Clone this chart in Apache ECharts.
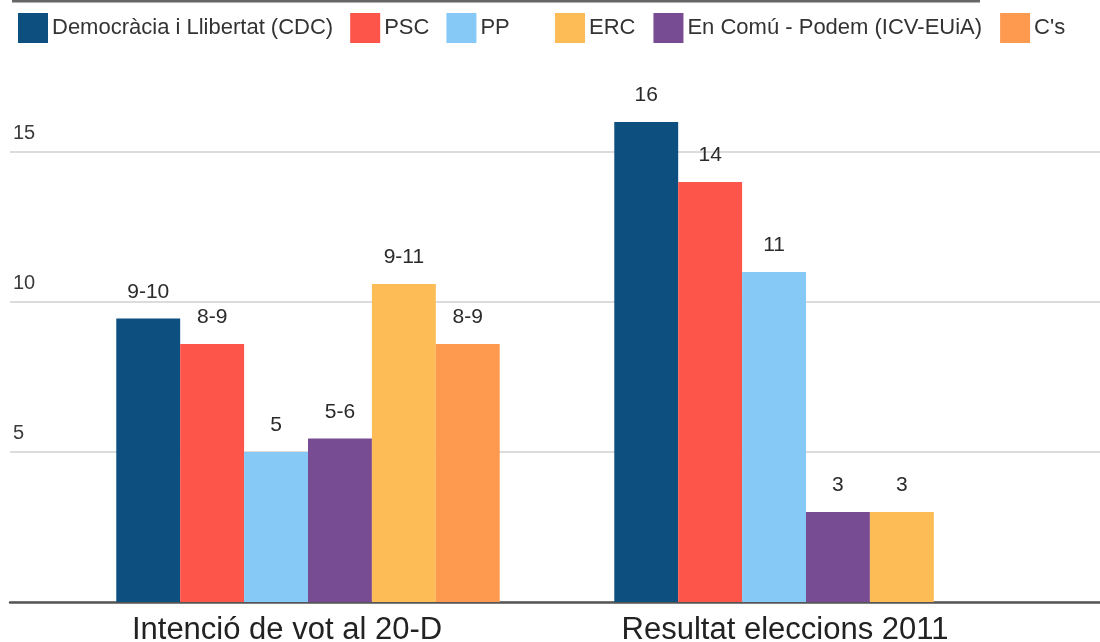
<!DOCTYPE html>
<html>
<head>
<meta charset="utf-8">
<script src="https://cdn.jsdelivr.net/npm/echarts@6/dist/echarts.min.js"></script>
<style>
  html, body { margin: 0; padding: 0; background: #fff; }
  #main { width: 1100px; height: 642px; }
</style>
</head>
<body>
<div id="main"></div>
<script>
// categories (groups on the x axis)
var categories = ['Intenció de vot al 20-D', 'Resultat eleccions 2011'];

// legend order differs from the bar order (two runs of spacing in the original)
var legendFirst  = ['Democràcia i Llibertat (CDC)', 'PSC', 'PP'];
var legendSecond = ['ERC', 'En Comú - Podem (ICV-EUiA)', "C's"];

// values (range midpoints for the poll)
var cdcValues  = [9.45, 16];
var pscValues  = [8.6, 14];
var ppValues   = [5, 11];
var comuValues = [5.45, 3];
var ercValues  = [10.6, 3];
var csValues   = [8.6, null];

// labels printed above the bars
var cdcLabels  = ['9-10', '16'];
var pscLabels  = ['8-9', '14'];
var ppLabels   = ['5', '11'];
var comuLabels = ['5-6', '3'];
var ercLabels  = ['9-11', '3'];
var csLabels   = ['8-9', ''];

var yTicks = [0, 5, 10, 15];

var myChart = echarts.init(document.getElementById('main'));

// 每个系列共用的样式
function makeSeries(name, color, values, labels) {
    return {
        name: name,
        type: 'bar',
        xAxisIndex: 1,
        yAxisIndex: 1,
        barGap: '0%',
        barCategoryGap: '23%',
        itemStyle: { color: color },
        label: {
            show: true,
            position: 'top',
            distance: 16,
            fontSize: 21,
            color: '#2a2a2a',
            formatter: function (p) { return labels[p.dataIndex]; }
        },
        data: values
    };
}

var legendText = { fontSize: 22, color: '#333', padding: [0, 0, 0, -1] };

var option = {
    animation: false,
    textStyle: { fontFamily: 'Liberation Sans, Arial, sans-serif' },
    graphic: [{
        type: 'line',
        shape: { x1: 12, y1: 1, x2: 980, y2: 1 },
        style: { stroke: '#666', lineWidth: 3 }
    }],
    legend: [{
        data: legendFirst,
        left: 18,
        top: 13,
        padding: 0,
        icon: 'rect',
        itemWidth: 30,
        itemHeight: 30,
        itemGap: 17,
        textStyle: legendText
    }, {
        data: legendSecond,
        left: 555,
        top: 13,
        padding: 0,
        icon: 'rect',
        itemWidth: 30,
        itemHeight: 30,
        itemGap: 18,
        textStyle: legendText
    }],
    grid: [
        { left: 10, right: 0, top: 2, bottom: 40, outerBoundsMode: 'none', containLabel: false },
        { left: 59, width: 996, top: 2, bottom: 40, outerBoundsMode: 'none', containLabel: false }
    ],
    xAxis: [{
        type: 'category',
        gridIndex: 0,
        data: [''],
        axisLine: { lineStyle: { color: '#555', width: 2.5 } },
        axisTick: { show: false },
        axisLabel: { show: false }
    }, {
        type: 'category',
        gridIndex: 1,
        data: categories,
        axisLine: { show: false },
        axisTick: { show: false },
        axisLabel: {
            fontSize: 31,
            color: '#222',
            margin: 13,
            padding: [0, 42, 0, 0]
        }
    }],
    yAxis: [{
        type: 'value',
        gridIndex: 0,
        min: 0,
        max: 20,
        interval: 5,
        axisLine: { show: false },
        axisTick: { show: false },
        splitLine: { showMaxLine: false, lineStyle: { color: '#dcdcdc', width: 2 } },
        axisLabel: {
            inside: true,
            margin: 3,
            align: 'left',
            verticalAlign: 'bottom',
            padding: [0, 0, 9, 0],
            fontSize: 20,
            color: '#3a3a3a',
            formatter: function (v) {
                return (yTicks.indexOf(v) > 0) ? String(v) : '';
            }
        }
    }, {
        type: 'value',
        gridIndex: 1,
        min: 0,
        max: 20,
        show: false
    }],
    series: [
        makeSeries('Democràcia i Llibertat (CDC)', '#0d4f7e', cdcValues, cdcLabels),
        makeSeries('PSC', '#fd5549', pscValues, pscLabels),
        makeSeries('PP', '#87c9f6', ppValues, ppLabels),
        makeSeries('En Comú - Podem (ICV-EUiA)', '#784c93', comuValues, comuLabels),
        makeSeries('ERC', '#fdbc55', ercValues, ercLabels),
        makeSeries("C's", '#fe9a50', csValues, csLabels)
    ]
};

myChart.setOption(option);
</script>
</body>
</html>
